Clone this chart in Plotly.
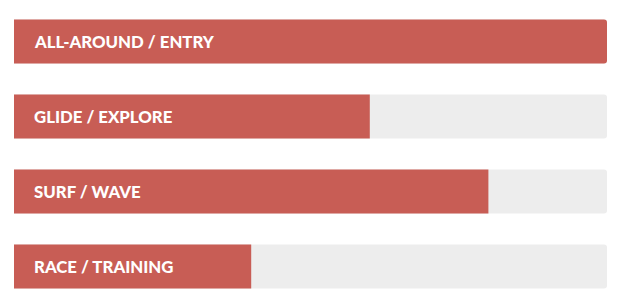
import plotly.graph_objects as go

categories = ["ALL-AROUND / ENTRY", "GLIDE / EXPLORE", "SURF / WAVE", "RACE / TRAINING"]
values = [100, 60, 80, 40]
track_max = [100, 100, 100, 100]

RED = "#C85D55"
TRACK = "#EDEDED"

fig = go.Figure()
fig.add_trace(go.Bar(
    y=categories, x=track_max, orientation="h",
    marker=dict(color=TRACK, line=dict(width=0)),
    width=0.5867, hoverinfo="skip", showlegend=False,
))
fig.add_trace(go.Bar(
    y=categories, x=values, orientation="h",
    marker=dict(color=RED, line=dict(width=0)),
    width=0.5867, showlegend=False,
))

for c in categories:
    fig.add_annotation(
        x=0, y=c, xref="x", yref="y", text=c, showarrow=False,
        xanchor="left", yanchor="middle", xshift=18, yshift=0,
        font=dict(family="Lato", size=16.8, color="white", weight=900),
    )

fig.update_layout(
    width=630, height=307,
    margin=dict(l=14, r=23, t=4, b=3),
    barmode="overlay",
    barcornerradius=3,
    plot_bgcolor="white", paper_bgcolor="white",
    xaxis=dict(range=[0, 100], visible=False, fixedrange=True),
    yaxis=dict(categoryorder="array", categoryarray=categories,
               range=[3.5, -0.5], visible=False, fixedrange=True),
)

fig.write_html("out.html")
